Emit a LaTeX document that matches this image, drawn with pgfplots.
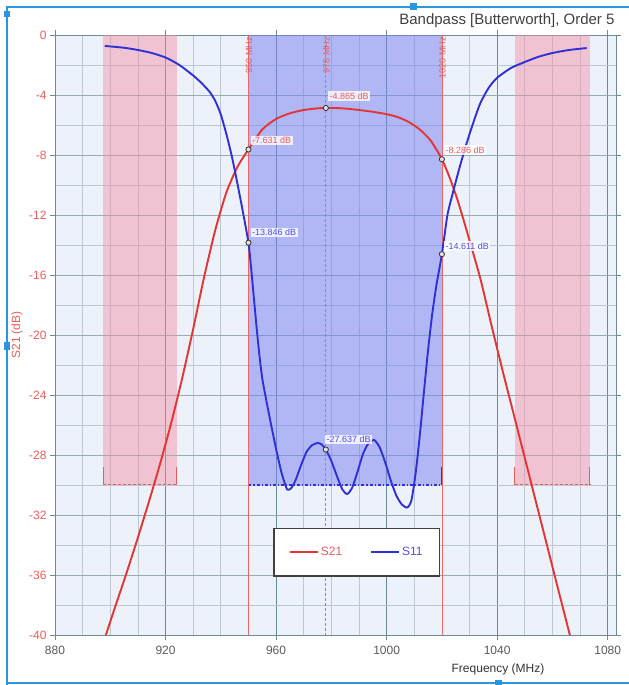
\documentclass[border=0pt]{standalone}
\usepackage{fontspec}
\setmainfont{Liberation Sans}
\usepackage{pgfplots}
\pgfplotsset{compat=1.18}
\definecolor{bgc}{RGB}{237,241,250}
\definecolor{gmaj}{RGB}{105,140,146}
\definecolor{gmin}{RGB}{188,200,208}
\definecolor{gy}{RGB}{150,172,180}
\definecolor{s21c}{RGB}{228,52,52}
\definecolor{s11c}{RGB}{48,48,215}
\definecolor{redband}{RGB}{244,140,162}
\definecolor{blueband}{RGB}{118,126,240}
\definecolor{rlab}{RGB}{236,92,92}
\definecolor{blab}{RGB}{80,80,230}
\definecolor{xlab}{RGB}{90,90,90}
\definecolor{framec}{RGB}{40,150,225}
\begin{document}
\begin{tikzpicture}
\useasboundingbox (0bp,0bp) rectangle (629bp,685bp);
\fill[white] (0bp,0bp) rectangle (629bp,685bp);
\begin{axis}[
  at={(55bp,50bp)}, anchor=south west,
  scale only axis, width=561bp, height=600bp,
  xmin=880, xmax=1083, ymin=-40, ymax=0,
  xtick={880,920,...,1080}, ytick={-40,-36,...,0},
  minor x tick num=3, minor y tick num=1,
  grid=both,
  major x grid style={gmaj, line width=0.9bp},
  minor x grid style={gmin, line width=0.7bp},
  major y grid style={gy, line width=0.8bp},
  minor y grid style={gmin, line width=0.7bp},
  axis line style={gmaj, line width=0.9bp},
  tick align=outside, major tick length=5bp, minor tick length=0bp,
  tick style={gmaj, line width=0.8bp},
  axis background/.style={fill=bgc},
  /pgf/number format/assume math mode=true,
  /pgf/number format/1000 sep={},
  xticklabel style={xlab, font=\fontsize{12bp}{14bp}\selectfont, yshift=-3bp},
  yticklabel style={rlab, font=\fontsize{12bp}{14bp}\selectfont},
  legend style={at={(axis cs:989.2,-34.47)}, anchor=center, draw=black!75, line width=1.2bp,
    fill=white, font=\fontsize{12bp}{14bp}\selectfont, inner xsep=15bp, inner ysep=17bp,
    /tikz/every even column/.append style={column sep=26bp}},
  legend columns=2,
  legend image code/.code={\draw[#1] (0bp,0bp) -- (28bp,0bp);},
]
% stop bands
\addplot[forget plot, draw=none, fill=redband, fill opacity=0.45] coordinates {(897.4,0) (924.1,0) (924.1,-30) (897.4,-30)} -- cycle;
\addplot[forget plot, draw=none, fill=redband, fill opacity=0.45] coordinates {(1046.4,0) (1073.5,0) (1073.5,-30) (1046.4,-30)} -- cycle;
% pass band
\addplot[forget plot, draw=none, fill=blueband, fill opacity=0.5] coordinates {(950,0) (1020,0) (1020,-30) (950,-30)} -- cycle;
% brackets
\addplot[forget plot, s21c!80, line width=1bp, densely dashed] coordinates {(897.4,-30) (924.1,-30)};
\addplot[forget plot, s21c!80, line width=1bp] coordinates {(897.4,-28.8) (897.4,-30)};
\addplot[forget plot, s21c!80, line width=1bp] coordinates {(924.1,-28.8) (924.1,-30)};
\addplot[forget plot, s21c!80, line width=1bp, densely dashed] coordinates {(1046.4,-30) (1073.5,-30)};
\addplot[forget plot, s21c!80, line width=1bp] coordinates {(1046.4,-28.8) (1046.4,-30)};
\addplot[forget plot, s21c!80, line width=1bp] coordinates {(1073.5,-28.8) (1073.5,-30)};
\addplot[forget plot, s11c, line width=1.1bp, dash dot] coordinates {(950,-30) (1020,-30)};
\addplot[forget plot, s11c, line width=1bp] coordinates {(950,-28.8) (950,-30)};
\addplot[forget plot, s11c, line width=1bp] coordinates {(1020,-28.8) (1020,-30)};
% vertical markers
\addplot[forget plot, s21c!75, line width=0.8bp] coordinates {(950,0) (950,-40)};
\addplot[forget plot, s21c!75, line width=0.8bp, densely dashed] coordinates {(978,0) (978,-40)};
\addplot[forget plot, s21c!75, line width=0.8bp] coordinates {(1020,0) (1020,-40)};
% S21
\addplot[s21c, line width=1.9bp, smooth, tension=0.4] coordinates {
(898.4,-40.0) (902,-38.0) (906,-35.8) (910,-33.5) (914,-31.1) (918,-28.6) (922,-25.9)
(926,-22.9) (930,-19.6) (934,-16.1) (938,-13.0) (942,-10.5) (946,-8.8) (950,-7.631)
(955,-6.3) (960,-5.6) (965,-5.22) (970,-5.0) (975,-4.89) (978,-4.865) (982,-4.87)
(986,-4.92) (990,-5.0) (995,-5.12) (1000,-5.28) (1004,-5.47) (1008,-5.8) (1012,-6.3)
(1016,-7.05) (1020,-8.286) (1023,-9.6) (1026,-11.2) (1030,-13.7) (1034,-16.3)
(1038,-19.4) (1042,-22.4) (1046,-25.3) (1050,-28.2) (1054,-31.1) (1058,-34.0)
(1062,-36.9) (1066.3,-40.0)};
\addlegendentry{\textcolor{rlab}{S21}}
% S11
\addplot[s11c, line width=1.9bp, smooth, tension=0.4] coordinates {
(898,-0.73) (905,-0.85) (910,-1.0) (915,-1.2) (920,-1.5) (925,-2.0) (930,-2.7)
(933,-3.2) (936,-3.8) (938,-4.4) (940,-5.3) (942,-6.6) (944,-8.1) (946,-9.9)
(948,-11.8) (950,-13.846) (951,-15.6) (952,-17.6) (953,-19.6) (954,-21.4) (955,-22.9)
(956.5,-24.4) (958,-25.8) (960,-27.6) (962,-29.2) (964,-30.3) (965.5,-30.2) (967,-29.7)
(969,-28.7) (971,-27.8) (973,-27.35) (975,-27.2) (976.5,-27.3) (978,-27.637)
(980,-28.4) (982,-29.4) (984,-30.3) (985.7,-30.6) (987.5,-30.2) (989.5,-29.1)
(991.5,-27.9) (993.5,-27.2) (995.5,-27.0) (997.5,-27.5) (999.5,-28.5) (1001.5,-29.7)
(1003.5,-30.7) (1005.5,-31.3) (1007.5,-31.5) (1009,-31.0) (1010.5,-29.2) (1012,-26.7)
(1013.5,-23.8) (1015,-21.0) (1016.5,-18.6) (1018,-16.7) (1020,-14.611) (1022,-12.0)
(1024,-10.5) (1026,-9.1) (1028,-7.8) (1030,-6.6) (1032,-5.5) (1034,-4.5) (1037,-3.5)
(1040,-2.85) (1045,-2.2) (1050,-1.8) (1055,-1.45) (1060,-1.2) (1066,-1.0) (1072.4,-0.87)};
\addlegendentry{\textcolor{blab}{S11}}
% marker points
\addplot[forget plot, only marks, mark=*, mark size=2.6bp,
  mark options={fill=black!12, draw=black!80, line width=0.8bp}] coordinates {
(950,-7.631) (978,-4.865) (1020,-8.286) (950,-13.846) (1020,-14.611) (978,-27.637)};
% marker labels
\tikzset{lab/.style={fill=white, fill opacity=0.8, text opacity=1, inner sep=1.5bp,
  font=\fontsize{9bp}{10bp}\selectfont, anchor=west}}
\node[lab, text=rlab, xshift=2bp, yshift=9bp] at (axis cs:950,-7.631) {-7.631 dB};
\node[lab, text=rlab, xshift=2bp, yshift=12bp] at (axis cs:978,-4.865) {-4.865 dB};
\node[lab, text=rlab, xshift=2bp, yshift=9bp] at (axis cs:1020,-8.286) {-8.286 dB};
\node[lab, text=blab, xshift=2bp, yshift=10bp] at (axis cs:950,-13.846) {-13.846 dB};
\node[lab, text=blab, xshift=2bp, yshift=8bp] at (axis cs:1020,-14.611) {-14.611 dB};
\node[lab, text=blab, xshift=-1bp, yshift=10bp] at (axis cs:978,-27.637) {-27.637 dB};
% frequency labels
\tikzset{flab/.style={rotate=90, anchor=south east, inner sep=0pt, text=rlab,
  font=\fontsize{9bp}{10bp}\selectfont, xshift=-2bp, yshift=-4bp}}
\node[flab] at (axis cs:950,0) {950 MHz};
\node[flab] at (axis cs:978,0) {978 MHz};
\node[flab] at (axis cs:1020,0) {1020 MHz};
\end{axis}
% title and labels
\node[anchor=base east, text=black!75, font=\fontsize{15bp}{17bp}\selectfont] at (618bp,660bp) {Bandpass [Butterworth], Order 5};
\node[rotate=90, text=rlab, font=\fontsize{12bp}{14bp}\selectfont] at (17bp,350bp) {S21 (dB)};
\node[text=black!80, font=\fontsize{12bp}{14bp}\selectfont] at (498bp,16bp) {Frequency (MHz)};
% screenshot frame
\draw[framec, line width=1.5bp] (7bp,0bp) -- (7bp,678bp) -- (629bp,678bp);
\draw[framec, line width=1.5bp] (7bp,2bp) -- (629bp,2bp);
\fill[framec] (4bp,668bp) rectangle (10bp,674bp);
\fill[framec] (4bp,335bp) rectangle (10bp,343bp);
\fill[framec] (410bp,675bp) rectangle (417bp,682bp);
\fill[framec] (495bp,0bp) rectangle (502bp,5bp);
\end{tikzpicture}
\end{document}
